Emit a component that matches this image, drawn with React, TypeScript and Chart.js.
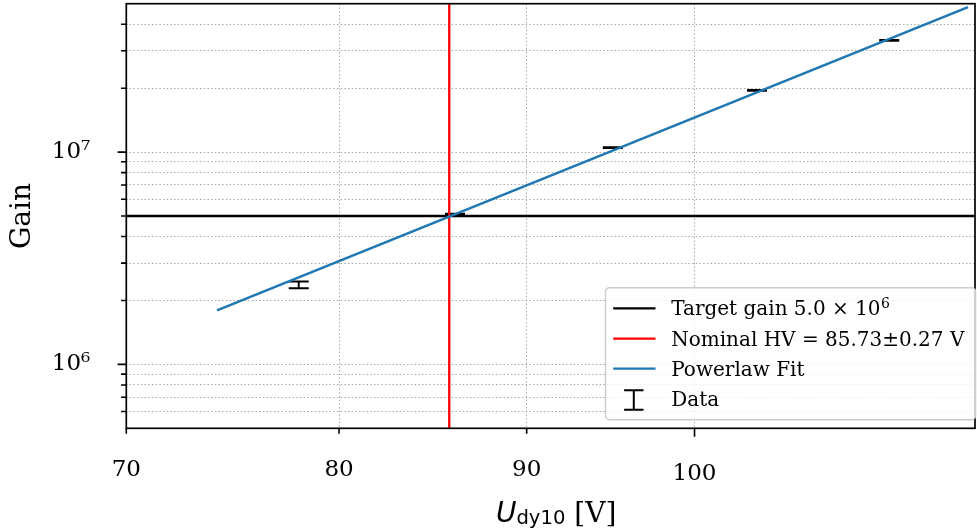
import React, { useEffect, useRef } from "react";
import { Chart, registerables } from "chart.js";

Chart.register(...registerables);

const SERIF = "'DejaVu Serif', serif";
const SANS = "'DejaVu Sans', sans-serif";

// ---- data ----
const dataVoltage = [78.0, 86.04, 95.0, 104.0, 113.0];
const dataGain = [2.37e6, 5.09e6, 1.049e7, 1.953e7, 3.357e7];
const dataGainErr = [0.085e6, 0.04e6, 0.05e6, 0.08e6, 0.12e6];

const fitVoltage = [74.1, 118.73];
const fitGain = [1.797e6, 4.82e7];

const targetGain = 5.0e6;
const nominalHV = 85.73;

const xLimits = [70, 119.25];
const yLimits = [5e5, 5e7];

const xTickValues = [70, 80, 90, 100];
const xTickLabels = ["70", "80", "90", "100"];
const xMajorTicks = [100];

const yTickValues = [
  6e5, 7e5, 8e5, 9e5, 1e6, 2e6, 3e6, 4e6, 5e6, 6e6, 7e6, 8e6, 9e6, 1e7, 2e7, 3e7, 4e7,
];
const yMajorTicks = [1e6, 1e7];
const yMajorLabels = ["10⁶", "10⁷"];

const legendLabels = [
  "Target gain 5.0 × 10",
  "Nominal HV = 85.73±0.27 V",
  "Powerlaw Fit",
  "Data",
];
const legendSup = "6";
const xTitleMain = "U";
const xTitleSub = "dy10";
const xTitleUnit = " [V]";
const yTitle = "Gain";

const COLORS = { target: "#000000", nominal: "#ff0000", fit: "#1f77b4", data: "#000000" };
const GRID = "#a8a8a8";

const decor = {
  id: "mplDecor",
  beforeDatasetsDraw(chart: any) {
    const { ctx, chartArea, scales } = chart;
    const xs = scales.x;
    const ys = scales.y;
    ctx.save();
    ctx.beginPath();
    ctx.rect(chartArea.left, chartArea.top, chartArea.right - chartArea.left, chartArea.bottom - chartArea.top);
    ctx.clip();
    ctx.strokeStyle = COLORS.data;
    ctx.lineWidth = 2;
    for (let i = 0; i < dataVoltage.length; i++) {
      const px = xs.getPixelForValue(dataVoltage[i]);
      const yt = ys.getPixelForValue(dataGain[i] + dataGainErr[i]);
      const yb = ys.getPixelForValue(dataGain[i] - dataGainErr[i]);
      ctx.beginPath();
      ctx.moveTo(px, yt);
      ctx.lineTo(px, yb);
      ctx.moveTo(px - 10, yt);
      ctx.lineTo(px + 10, yt);
      ctx.moveTo(px - 10, yb);
      ctx.lineTo(px + 10, yb);
      ctx.stroke();
    }
    ctx.restore();
  },
  afterDatasetsDraw(chart: any) {
    const { ctx, chartArea, scales } = chart;
    const xs = scales.x;
    const ys = scales.y;
    ctx.save();
    ctx.strokeStyle = "#000";
    ctx.lineWidth = 1.7;
    ctx.strokeRect(chartArea.left, chartArea.top, chartArea.right - chartArea.left, chartArea.bottom - chartArea.top);
    ctx.lineWidth = 1.6;
    ctx.beginPath();
    for (const v of xTickValues) {
      const px = xs.getPixelForValue(v);
      const len = xMajorTicks.includes(v) ? 8.5 : 5.5;
      ctx.moveTo(px, chartArea.bottom);
      ctx.lineTo(px, chartArea.bottom + len);
    }
    for (const v of yTickValues) {
      const py = ys.getPixelForValue(v);
      const len = yMajorTicks.includes(v) ? 8.7 : 5.3;
      ctx.moveTo(chartArea.left, py);
      ctx.lineTo(chartArea.left - len, py);
    }
    ctx.stroke();
    ctx.restore();
  },
  afterDraw(chart: any) {
    const { ctx, chartArea } = chart;
    ctx.save();
    // x axis title with subscript
    const mainFont = `italic 28px ${SANS}`;
    const subFont = `19.6px ${SANS}`;
    const unitFont = `28px ${SERIF}`;
    ctx.font = mainFont;
    const wU = ctx.measureText(xTitleMain).width;
    ctx.font = subFont;
    const wS = ctx.measureText(xTitleSub).width;
    ctx.font = unitFont;
    const wV = ctx.measureText(xTitleUnit).width;
    const total = wU + wS + wV;
    const cx = (chartArea.left + chartArea.right) / 2 + 5.5;
    let x = cx - total / 2;
    const base = 521.5;
    ctx.fillStyle = "#000";
    ctx.textBaseline = "alphabetic";
    ctx.textAlign = "left";
    ctx.font = mainFont;
    ctx.fillText(xTitleMain, x, base);
    x += wU;
    ctx.font = subFont;
    ctx.fillText(xTitleSub, x, base + 2);
    x += wS;
    ctx.font = unitFont;
    ctx.fillText(xTitleUnit, x, base);

    // legend
    const lw = 370;
    const lh = 132;
    const right = chartArea.right + 0.5;
    const bottom = chartArea.bottom - 8.6;
    const left = right - lw;
    const top = bottom - lh;
    ctx.beginPath();
    ctx.roundRect(left, top, lw, lh, 4);
    ctx.fillStyle = "rgba(255,255,255,0.8)";
    ctx.fill();
    ctx.strokeStyle = "#cccccc";
    ctx.lineWidth = 1.5;
    ctx.stroke();

    const baselines = [bottom - 104.4, bottom - 74, bottom - 44, bottom - 13.4];
    const handleColors = [COLORS.target, COLORS.nominal, COLORS.fit];
    ctx.lineWidth = 2.3;
    for (let i = 0; i < 3; i++) {
      ctx.strokeStyle = handleColors[i];
      ctx.beginPath();
      ctx.moveTo(left + 7.7, baselines[i] - 7);
      ctx.lineTo(left + 50, baselines[i] - 7);
      ctx.stroke();
    }
    // errorbar handle
    const ex = left + 28.3;
    const et = baselines[3] - 16;
    const eb = baselines[3] + 3.4;
    ctx.strokeStyle = COLORS.data;
    ctx.lineWidth = 2;
    ctx.beginPath();
    ctx.moveTo(ex, et);
    ctx.lineTo(ex, eb);
    ctx.moveTo(ex - 9.7, et);
    ctx.lineTo(ex + 9.7, et);
    ctx.moveTo(ex - 9.7, eb);
    ctx.lineTo(ex + 9.7, eb);
    ctx.stroke();

    ctx.fillStyle = "#000";
    const tx = left + 65.7;
    for (let i = 0; i < legendLabels.length; i++) {
      ctx.font = `20px ${SERIF}`;
      ctx.fillText(legendLabels[i], tx, baselines[i]);
      if (i === 0) {
        const w = ctx.measureText(legendLabels[i]).width;
        ctx.font = `14px ${SERIF}`;
        ctx.fillText(legendSup, tx + w + 0.5, baselines[i] - 7.5);
      }
    }
    ctx.restore();
  },
};

export default function App() {
  const ref = useRef<HTMLCanvasElement>(null);
  useEffect(() => {
    document.body.style.margin = "0";
    const canvas = ref.current!;
    const chart = new Chart(canvas, {
      type: "scatter",
      data: {
        datasets: [
          {
            label: legendLabels[0],
            data: [
              { x: xLimits[0], y: targetGain },
              { x: xLimits[1], y: targetGain },
            ],
            showLine: true,
            borderColor: COLORS.target,
            borderWidth: 2.3,
            pointRadius: 0,
            order: 3,
          },
          {
            label: legendLabels[1],
            data: [
              { x: nominalHV, y: yLimits[0] },
              { x: nominalHV, y: yLimits[1] },
            ],
            showLine: true,
            borderColor: COLORS.nominal,
            borderWidth: 2.3,
            pointRadius: 0,
            order: 2,
          },
          {
            label: legendLabels[2],
            data: fitVoltage.map((v, i) => ({ x: v, y: fitGain[i] })),
            showLine: true,
            borderColor: COLORS.fit,
            borderWidth: 2.6,
            pointRadius: 0,
            order: 1,
          },
          {
            label: legendLabels[3],
            data: dataVoltage.map((v, i) => ({ x: v, y: dataGain[i] })),
            showLine: false,
            pointRadius: 0,
            pointHoverRadius: 0,
            order: 4,
          },
        ],
      },
      options: {
        responsive: false,
        animation: false,
        devicePixelRatio: 1,
        events: [],
        layout: { padding: { top: 3.7, right: 2, left: 0, bottom: 0 } },
        plugins: { legend: { display: false }, tooltip: { enabled: false } },
        scales: {
          x: {
            type: "logarithmic",
            min: xLimits[0],
            max: xLimits[1],
            afterBuildTicks: (s: any) => {
              s.ticks = xTickValues.map((v) => ({ value: v, major: xMajorTicks.includes(v) }));
            },
            afterFit: (s: any) => {
              s.height = 101.7;
              s.paddingLeft = 0;
              s.paddingRight = 0;
            },
            ticks: {
              autoSkip: false,
              maxRotation: 0,
              minRotation: 0,
              padding: 28,
              color: "#000",
              font: (c: any) => ({
                family: SERIF,
                size: 23,
                lineHeight: c.tick && xMajorTicks.includes(c.tick.value) ? 1.5 : 1.2,
              }),
              callback: (v: any) => {
                const i = xTickValues.indexOf(Number(v));
                return i >= 0 ? xTickLabels[i] : "";
              },
            },
            grid: { color: GRID, lineWidth: 1, drawTicks: false },
            border: { display: false, dash: [1.5, 2.2] },
          },
          y: {
            type: "logarithmic",
            min: yLimits[0],
            max: yLimits[1],
            afterBuildTicks: (s: any) => {
              s.ticks = yTickValues.map((v) => ({ value: v, major: yMajorTicks.includes(v) }));
            },
            afterFit: (s: any) => {
              s.width = 126.3;
              s.paddingTop = 0;
              s.paddingBottom = 0;
            },
            ticks: {
              autoSkip: false,
              padding: 36,
              color: "#000",
              font: { family: SERIF, size: 23 },
              callback: (v: any) => {
                const i = yMajorTicks.indexOf(Number(v));
                return i >= 0 ? yMajorLabels[i] : "";
              },
            },
            title: {
              display: true,
              text: yTitle,
              color: "#000",
              font: { family: SERIF, size: 28 },
              padding: { top: 6, bottom: 0 },
            },
            grid: { color: GRID, lineWidth: 1, drawTicks: false },
            border: { display: false, dash: [1.5, 2.2] },
          },
        },
      },
      plugins: [decor],
    } as any);
    return () => chart.destroy();
  }, []);
  return (
    <div style={{ width: 977, height: 530 }}>
      <canvas ref={ref} width={977} height={530} style={{ display: "block" }} />
    </div>
  );
}
